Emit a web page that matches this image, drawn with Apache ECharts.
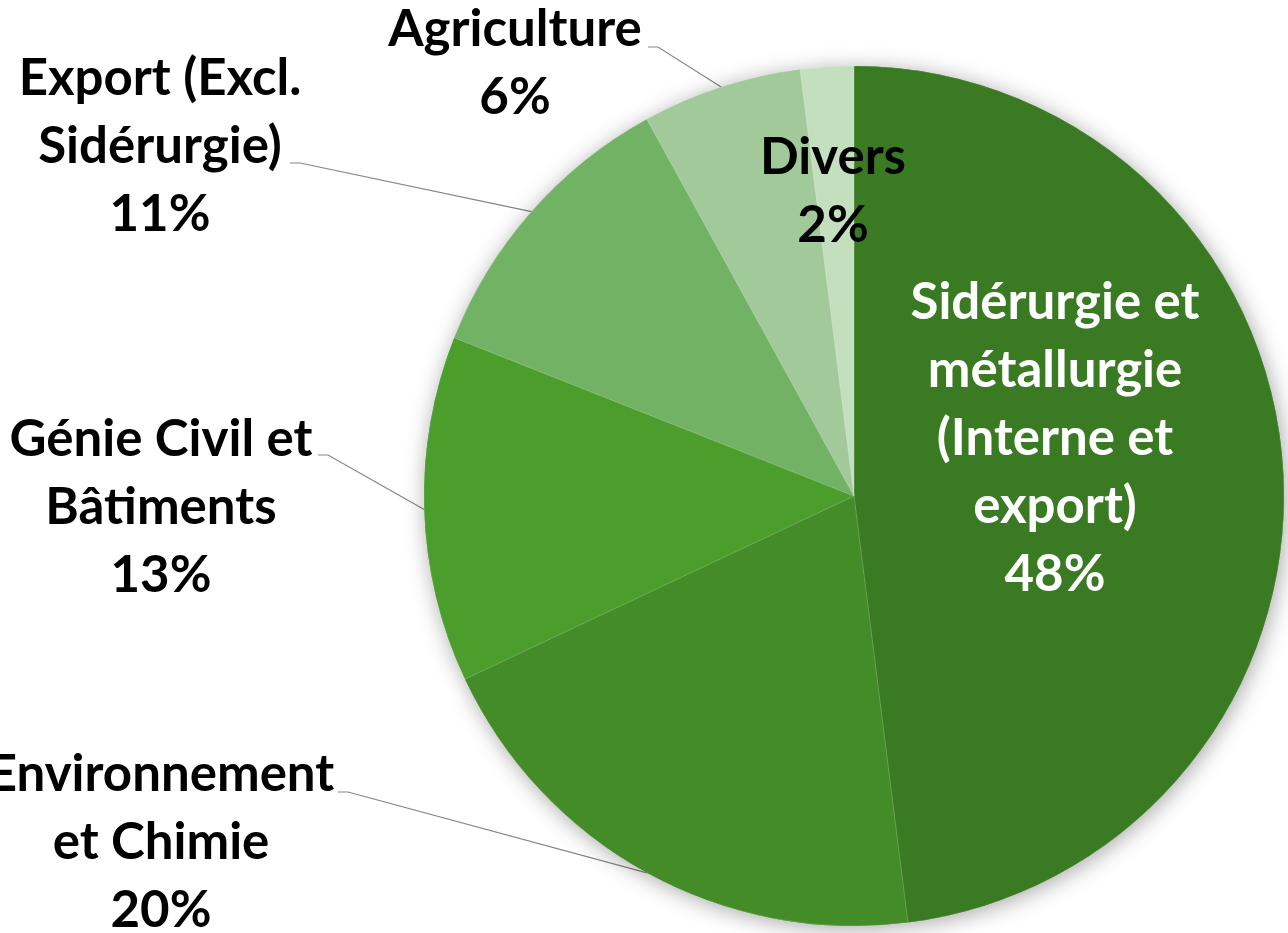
<!DOCTYPE html>
<html>
<head>
<meta charset="utf-8">
<script src="https://cdn.jsdelivr.net/npm/echarts@6/dist/echarts.min.js"></script>
<style>
html, body { margin: 0; padding: 0; background: #fff; }
#chart { width: 1288px; height: 933px; }
</style>
</head>
<body>
<div id="chart"></div>
<script>
// secteurs, dans l'ordre horaire depuis midi
var sectors = ['Sidérurgie et\nmétallurgie\n(Interne et\nexport)', 'Environnement\net Chimie', 'Génie Civil et\nBâtiments', 'Export (Excl.\nSidérurgie)', 'Agriculture', 'Divers'];
var shares = [48, 20, 13, 11, 6, 2];
var colors = ['#3a7a22', '#438c27', '#4b9e2b', '#72b264', '#a1c99a', '#c4dfbe'];

// centre de chaque bloc d'étiquette + bout du trait de rappel (côté texte)
var labelPos = [[1055, 439], [161, 843], [161, 508], [160, 147], [515, 64], [833, 192]];
var lineEnd = [null, [338, 792], [318, 455], [290, 163], [648, 47], null];

var chart = echarts.init(document.getElementById('chart'));

var pieData = sectors.map(function (name, i) {
    var item = { name: name, value: shares[i], itemStyle: { color: colors[i] } };
    if (!lineEnd[i]) {
        item.label = { position: 'inside', color: i === 0 ? '#fff' : '#000' };
        item.labelLine = { show: false };
    }
    return item;
});

var option = {
    animation: false,
    series: [
        {
            // disque d'ombre sous le camembert
            type: 'pie',
            center: [854, 496],
            radius: 430,
            startAngle: 90,
            silent: true,
            label: { show: false },
            labelLine: { show: false },
            itemStyle: {
                shadowBlur: 22,
                shadowColor: 'rgba(0,0,0,0.35)',
                shadowOffsetX: 2,
                shadowOffsetY: 3
            },
            data: pieData.map(function (d) { return { name: d.name, value: d.value, itemStyle: d.itemStyle }; })
        },
        {
            type: 'pie',
            center: [854, 496],
            radius: 430,
            startAngle: 90,
            avoidLabelOverlap: false,
            itemStyle: {
                borderColor: 'rgba(255,255,255,0.25)',
                borderWidth: 0.6
            },
            label: {
                show: true,
                position: 'outside',
                overflow: 'none',
                formatter: '{b}\n{d}%',
                fontFamily: 'Lato',
                fontWeight: 'bold',
                fontSize: 51,
                lineHeight: 68,
                color: '#000',
                align: 'center'
            },
            labelLine: {
                show: true,
                lineStyle: { color: '#858585', width: 1.2 }
            },
            labelLayout: function (params) {
                var i = params.dataIndex;
                var out = {
                    x: labelPos[i][0],
                    y: labelPos[i][1],
                    align: 'center',
                    verticalAlign: 'middle'
                };
                var end = lineEnd[i];
                if (end && params.labelLinePoints) {
                    out.labelLinePoints = [params.labelLinePoints[0], [end[0] + 10, end[1]], end];
                }
                return out;
            },
            data: pieData
        }
    ]
};

chart.setOption(option);
</script>
</body>
</html>
